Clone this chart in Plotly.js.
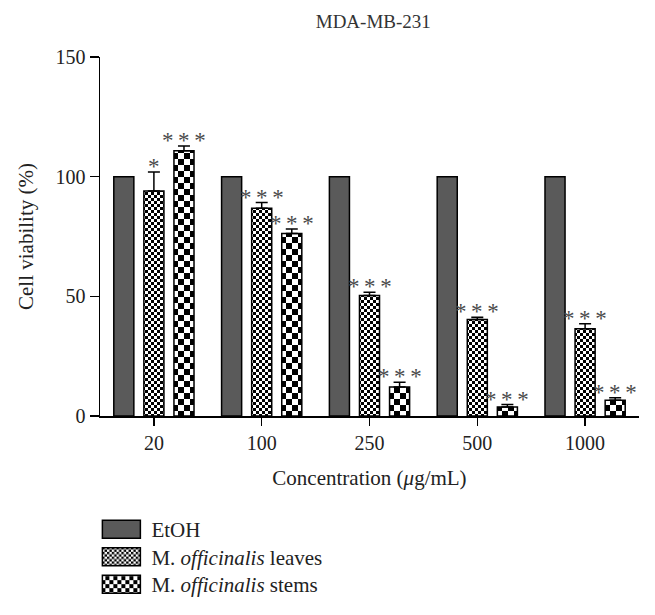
<!DOCTYPE html>
<html>
<head>
<meta charset="utf-8">
<script src="https://cdn.plot.ly/plotly-3.0.1.min.js"></script>
<style>html,body{margin:0;padding:0;background:#fff;}#chart{width:655px;height:615px;}</style>
</head>
<body>
<div id="chart"></div>
<script>
// ---- data ----
var concentrations = ['20', '100', '250', '500', '1000'];
var seriesNames = ['EtOH', 'M. <i>officinalis</i> leaves', 'M. <i>officinalis</i> stems'];
var etohValues = [100, 100, 100, 100, 100];
var leavesValues = [94, 86.8, 50.4, 40.3, 36.5];
var leavesErrors = [8, 2.4, 1.3, 1.0, 2.0];
var stemsValues = [110.8, 76.3, 12.1, 3.8, 6.6];
var stemsErrors = [2.0, 1.8, 2.0, 1.0, 1.0];
var leavesStars = ['*', '*\u2009*\u2009*', '*\u2009*\u2009*', '*\u2009*\u2009*', '*\u2009*\u2009*'];
var stemsStars = ['*\u2009*\u2009*', '*\u2009*\u2009*', '*\u2009*\u2009*', '*\u2009*\u2009*', '*\u2009*\u2009*'];

var idx = concentrations.map(function(_, i){ return i; });
var FONT = 'Liberation Serif, Times New Roman, serif';

var traces = [
  {type:'bar', name: seriesNames[0], x: idx, y: etohValues,
   marker:{color:'#5a5a5a', line:{color:'#000', width:1.5}}},
  {type:'bar', name: seriesNames[1], x: idx, y: leavesValues,
   marker:{color:'#fff', line:{color:'#000', width:1.5},
           pattern:{shape:'+', size:6, fgcolor:'#000', bgcolor:'#fff', solidity:0.5}},
   error_y:{type:'data', symmetric:false, array: leavesErrors, arrayminus: leavesErrors.map(function(){return 0;}),
            color:'#000', thickness:1.5, width:6}},
  {type:'bar', name: seriesNames[2], x: idx, y: stemsValues,
   marker:{color:'#fff', line:{color:'#000', width:1.5},
           pattern:{shape:'+', size:12, fgcolor:'#000', bgcolor:'#fff', solidity:0.5}},
   error_y:{type:'data', symmetric:false, array: stemsErrors, arrayminus: stemsErrors.map(function(){return 0;}),
            color:'#000', thickness:1.5, width:6}}
];

var annotations = [];
idx.forEach(function(i){
  annotations.push({x: i, y: leavesValues[i] + leavesErrors[i], xref:'x', yref:'y',
    text: leavesStars[i], showarrow:false, yanchor:'bottom', yshift:-9, xshift:0,
    font:{family:FONT, size:23, color:'#4a4a4a'}});
  annotations.push({x: i, y: stemsValues[i] + stemsErrors[i], xref:'x', yref:'y',
    text: stemsStars[i], showarrow:false, yanchor:'bottom', yshift:-9, xshift:30,
    font:{family:FONT, size:23, color:'#4a4a4a'}});
});

var layout = {
  width:655, height:615,
  margin:{l:100, r:16, t:57, b:199, autoexpand:false},
  paper_bgcolor:'#fff', plot_bgcolor:'#fff',
  barmode:'group', bargap:0.163, bargroupgap:0.333,
  font:{family:FONT, size:20, color:'#222'},
  title:{text:'MDA-MB-231', x:0.507, xref:'paper', xanchor:'center', y:1-21/615, yanchor:'middle',
         font:{family:FONT, size:19, color:'#333'}},
  showlegend:true,
  legend:{orientation:'v', x:-0.016, xanchor:'left', yref:'container', y:1-509/615, yanchor:'top',
          itemwidth:50, font:{family:FONT, size:21, color:'#222'}, bgcolor:'rgba(0,0,0,0)'},
  xaxis:{range:[-0.5, 4.5], tickvals: idx, ticktext: concentrations,
         showline:true, linecolor:'#000', linewidth:1.5, ticks:'outside', ticklen:8,
         tickwidth:1.5, tickcolor:'#000', showgrid:false, zeroline:false, fixedrange:true,
         tickfont:{family:FONT, size:20, color:'#222'},
         title:{text:'Concentration (<i>μ</i>g/mL)', font:{family:FONT, size:21, color:'#222'}, standoff:18}},
  yaxis:{range:[0,150], tickvals:[0,50,100,150], showline:true, linecolor:'#000', linewidth:1.5,
         ticks:'outside', ticklen:9, tickwidth:1.5, tickcolor:'#000', showgrid:false, zeroline:false,
         tickfont:{family:FONT, size:20, color:'#222'},
         title:{text:'Cell viability (%)', font:{family:FONT, size:21, color:'#222'}, standoff:16}},
  annotations: annotations
};

function checkerize(gd){
  var ns = 'http://www.w3.org/2000/svg';
  gd.querySelectorAll('pattern').forEach(function(p){
    var w = parseFloat(p.getAttribute('width'));
    var h = parseFloat(p.getAttribute('height'));
    if(!w || !h) return;
    while(p.firstChild) p.removeChild(p.firstChild);
    function mk(x, y, ww, hh, f){
      var r = document.createElementNS(ns, 'rect');
      r.setAttribute('x', x); r.setAttribute('y', y);
      r.setAttribute('width', ww); r.setAttribute('height', hh);
      r.setAttribute('fill', f); p.appendChild(r);
    }
    mk(0, 0, w, h, '#fff');
    mk(0, 0, w/2, h/2, '#000');
    mk(w/2, h/2, w/2, h/2, '#000');
  });
  gd.querySelectorAll('.legend .legendpoints path').forEach(function(pth){
    pth.setAttribute('d', 'M-19,9H19V-9H-19Z');
  });
  // tighten legend row spacing
  var items = gd.querySelectorAll('.legend g.traces');
  var y0 = null;
  items.forEach(function(g, i){
    var m = /translate\(\s*([-\d.]+)[ ,]+([-\d.]+)\s*\)/.exec(g.getAttribute('transform') || '');
    if(!m) return;
    var x = parseFloat(m[1]), y = parseFloat(m[2]);
    if(y0 === null) y0 = y;
    g.setAttribute('transform', 'translate(' + x + ',' + (y0 + i * 27.5) + ')');
  });
}

var gd = document.getElementById('chart');
Plotly.newPlot(gd, traces, layout, {displayModeBar:false, staticPlot:true}).then(function(){
  checkerize(gd);
});
</script>
</body>
</html>
